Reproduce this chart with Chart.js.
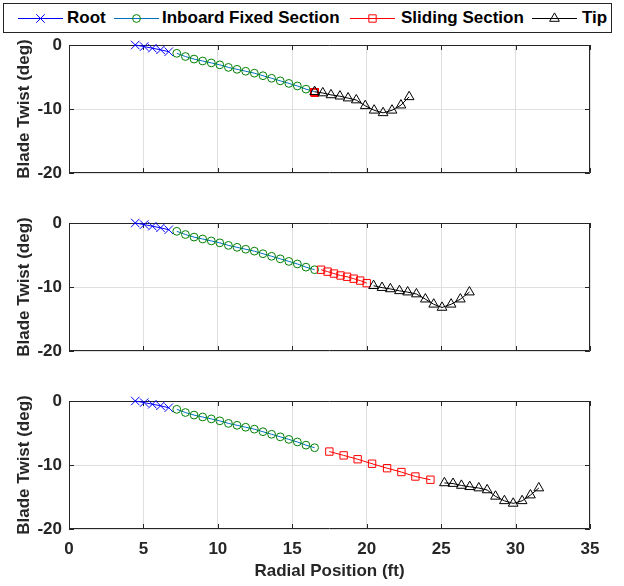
<!DOCTYPE html>
<html>
<head>
<meta charset="utf-8">
<script src="https://cdn.jsdelivr.net/npm/chart.js@4.4.1/dist/chart.umd.min.js"></script>
<style>
  body { margin: 0; background: #fff; width: 624px; height: 586px; position: relative; overflow: hidden; }
  canvas { position: absolute; left: 0; }
  #legend { position: absolute; left: 3px; top: 3px; width: 609px; height: 30px; border: 1px solid #262626; box-sizing: border-box; }
  .lg { position: absolute; top: 0; height: 28px; font: bold 17px "Liberation Sans", Arial, sans-serif; color: #000; line-height: 28px; }
</style>
</head>
<body>
<div id="legend"></div>
<canvas id="p1" width="624" height="148" style="top:35px"></canvas>
<canvas id="p2" width="624" height="148" style="top:213px"></canvas>
<canvas id="p3" width="624" height="195" style="top:391px"></canvas>
<script>
// section labels
const sectionNames = ['Root', 'Inboard Fixed Section', 'Sliding Section', 'Tip'];

// root and inboard sections are the same in every panel
const rootX = [4.45, 5.05, 5.6, 6.15, 6.7];
const rootTwist = [0, -0.25, -0.5, -0.75, -1.05];

const inboardX = [7.24, 7.82, 8.4, 8.98, 9.56, 10.13, 10.71, 11.29, 11.87, 12.45, 13.03, 13.61, 14.19, 14.77, 15.34, 15.92, 16.5];
const inboardTwist = [-1.3, -1.8, -2.2, -2.5, -2.8, -3.1, -3.5, -3.8, -4.1, -4.4, -4.8, -5.2, -5.6, -6.0, -6.4, -6.9, -7.3];

// panel 1 - sliding section retracted
const slidingX1 = [16.5, 16.5, 16.5, 16.5, 16.5, 16.5, 16.5, 16.5];
const slidingTwist1 = [-7.4, -7.4, -7.4, -7.4, -7.4, -7.4, -7.4, -7.4];
const tipX1 = [16.5, 17.05, 17.6, 18.2, 18.75, 19.3, 19.9, 20.5, 21.1, 21.7, 22.3, 22.85];
const tipTwist1 = [-7.3, -7.5, -7.8, -8.0, -8.3, -8.6, -9.5, -10.2, -10.6, -10.2, -9.4, -8.1];

// panel 2 - half extended
const slidingX2 = [16.93, 17.37, 17.8, 18.24, 18.68, 19.12, 19.56, 20.0];
const slidingTwist2 = [-7.3, -7.6, -7.9, -8.2, -8.4, -8.7, -9.0, -9.4];
const tipX2 = [20.46, 21.03, 21.59, 22.2, 22.75, 23.34, 23.94, 24.5, 25.06, 25.67, 26.29, 26.9];
const tipTwist2 = [-9.8, -10.1, -10.3, -10.6, -10.8, -11.1, -11.9, -12.7, -13.2, -12.7, -11.9, -10.8];

// panel 3 - fully extended
const slidingX3 = [17.49, 18.45, 19.39, 20.36, 21.37, 22.33, 23.27, 24.28];
const slidingTwist3 = [-7.9, -8.5, -9.1, -9.8, -10.5, -11.1, -11.8, -12.3];
const tipX3 = [25.22, 25.8, 26.36, 26.92, 27.53, 28.09, 28.65, 29.25, 29.84, 30.44, 31.0, 31.56];
const tipTwist3 = [-12.8, -12.9, -13.2, -13.4, -13.6, -13.9, -14.9, -15.6, -16.0, -15.6, -14.7, -13.6];

const xTicks = [0, 5, 10, 15, 20, 25, 30, 35];
const yTicks = [0, -10, -20];

const FONT = "'Liberation Sans', Arial, sans-serif";
Chart.defaults.font.family = FONT;
Chart.defaults.font.weight = 'bold';
Chart.defaults.font.size = 17;
Chart.defaults.color = '#262626';

const styles = [
  { line: '#0000ff', marker: '#0000ff', pointStyle: 'crossRot', r: 6, order: 3 },
  { line: '#0072bd', marker: '#008000', pointStyle: 'circle', r: 3.9, order: 2 },
  { line: '#ff0000', marker: '#ff0000', pointStyle: 'rect', r: 5.2, order: 1 },
  { line: '#000000', marker: '#000000', pointStyle: 'triangle', r: 5.6, order: 0 },
];

function pts(xs, ys) {
  return xs.map((x, i) => ({ x: x, y: ys[i] }));
}

function makeDataset(i, xs, ys) {
  let s = styles[i];
  return {
    label: sectionNames[i],
    data: pts(xs, ys),
    showLine: true,
    borderColor: s.line,
    borderWidth: 1,
    pointStyle: s.pointStyle,
    pointRadius: s.r,
    pointBorderColor: s.marker,
    pointBackgroundColor: 'rgba(0,0,0,0)',
    pointBorderWidth: 1,
    order: s.order,
    clip: false,
  };
}

// axes box with inward ticks, like the matlab figure
const boxPlugin = {
  id: 'box',
  beforeDatasetsDraw(chart) {
    const { ctx, chartArea: a, scales } = chart;
    ctx.save();
    ctx.strokeStyle = '#262626';
    ctx.lineWidth = 1;
    ctx.beginPath();
    ctx.rect(a.left + 0.5, a.top + 0.5, a.right - a.left - 1, a.bottom - a.top - 1);
    xTicks.forEach(v => {
      let px = Math.round(scales.x.getPixelForValue(v)) + 0.5;
      ctx.moveTo(px, a.bottom); ctx.lineTo(px, a.bottom - 5);
      ctx.moveTo(px, a.top); ctx.lineTo(px, a.top + 5);
    });
    yTicks.forEach(v => {
      let py = Math.round(scales.y.getPixelForValue(v)) + 0.5;
      ctx.moveTo(a.left, py); ctx.lineTo(a.left + 5, py);
      ctx.moveTo(a.right, py); ctx.lineTo(a.right - 5, py);
    });
    ctx.stroke();
    ctx.restore();
  }
};

function makePanel(id, slidingX, slidingTwist, tipX, tipTwist, bottom) {
  let ctx = document.getElementById(id);
  let datasets = [
    makeDataset(0, rootX, rootTwist),
    makeDataset(1, inboardX, inboardTwist),
    makeDataset(2, slidingX, slidingTwist),
    makeDataset(3, tipX, tipTwist),
  ];
  return new Chart(ctx, {
    type: 'scatter',
    data: { datasets: datasets },
    plugins: [boxPlugin],
    options: {
      responsive: false,
      animation: false,
      devicePixelRatio: 1,
      layout: { padding: { top: 10, right: 34, left: 0, bottom: 0 } },
      plugins: { legend: { display: false }, tooltip: { enabled: false } },
      scales: {
        x: {
          type: 'linear', min: 0, max: 35,
          afterBuildTicks: s => { s.ticks = xTicks.map(v => ({ value: v })); },
          afterFit: s => {
            s.height = bottom ? 57 : 10;
            s.paddingLeft = 0; s.paddingRight = 0;
          },
          grid: { color: '#dfdfdf', drawTicks: false },
          border: { display: false },
          ticks: { display: bottom, padding: 10, color: '#262626' },
          title: {
            display: bottom, text: 'Radial Position (ft)',
            padding: { top: 0, bottom: 4 }, color: '#262626',
          },
        },
        y: {
          type: 'linear', min: -20, max: 0,
          afterBuildTicks: s => { s.ticks = yTicks.map(v => ({ value: v })); },
          afterFit: s => {
            s.width = 69;
            s.paddingTop = 0; s.paddingBottom = 0;
          },
          grid: { color: '#dfdfdf', drawTicks: false },
          border: { display: false },
          ticks: { padding: 7, color: '#262626' },
          title: {
            display: true, text: 'Blade Twist (deg)',
            padding: { top: 14, bottom: 0 }, color: '#262626',
          },
        },
      },
    },
  });
}

makePanel('p1', slidingX1, slidingTwist1, tipX1, tipTwist1, false);
makePanel('p2', slidingX2, slidingTwist2, tipX2, tipTwist2, false);
makePanel('p3', slidingX3, slidingTwist3, tipX3, tipTwist3, true);

// legend: line + marker swatch and label
const legendPos = [
  { line: 18, text: 67 },
  { line: 114, text: 162 },
  { line: 350, text: 401 },
  { line: 532, text: 582 },
];
const legend = document.getElementById('legend');
sectionNames.forEach((name, i) => {
  let s = styles[i];
  let sw = document.createElement('canvas');
  sw.width = 46; sw.height = 28;
  sw.style.left = (legendPos[i].line - 4) + 'px';
  sw.style.top = '0px';
  let c = sw.getContext('2d');
  c.strokeStyle = s.line;
  c.lineWidth = 1;
  c.beginPath(); c.moveTo(0, 14.5); c.lineTo(45, 14.5); c.stroke();
  c.strokeStyle = s.marker;
  c.fillStyle = 'rgba(0,0,0,0)';
  Chart.helpers.drawPoint(c, { pointStyle: s.pointStyle, radius: s.r, borderWidth: 1 }, 22.5, 14.5);
  legend.appendChild(sw);
  let t = document.createElement('div');
  t.className = 'lg';
  t.style.left = (legendPos[i].text - 4) + 'px';
  t.textContent = name;
  legend.appendChild(t);
});
</script>
</body>
</html>
